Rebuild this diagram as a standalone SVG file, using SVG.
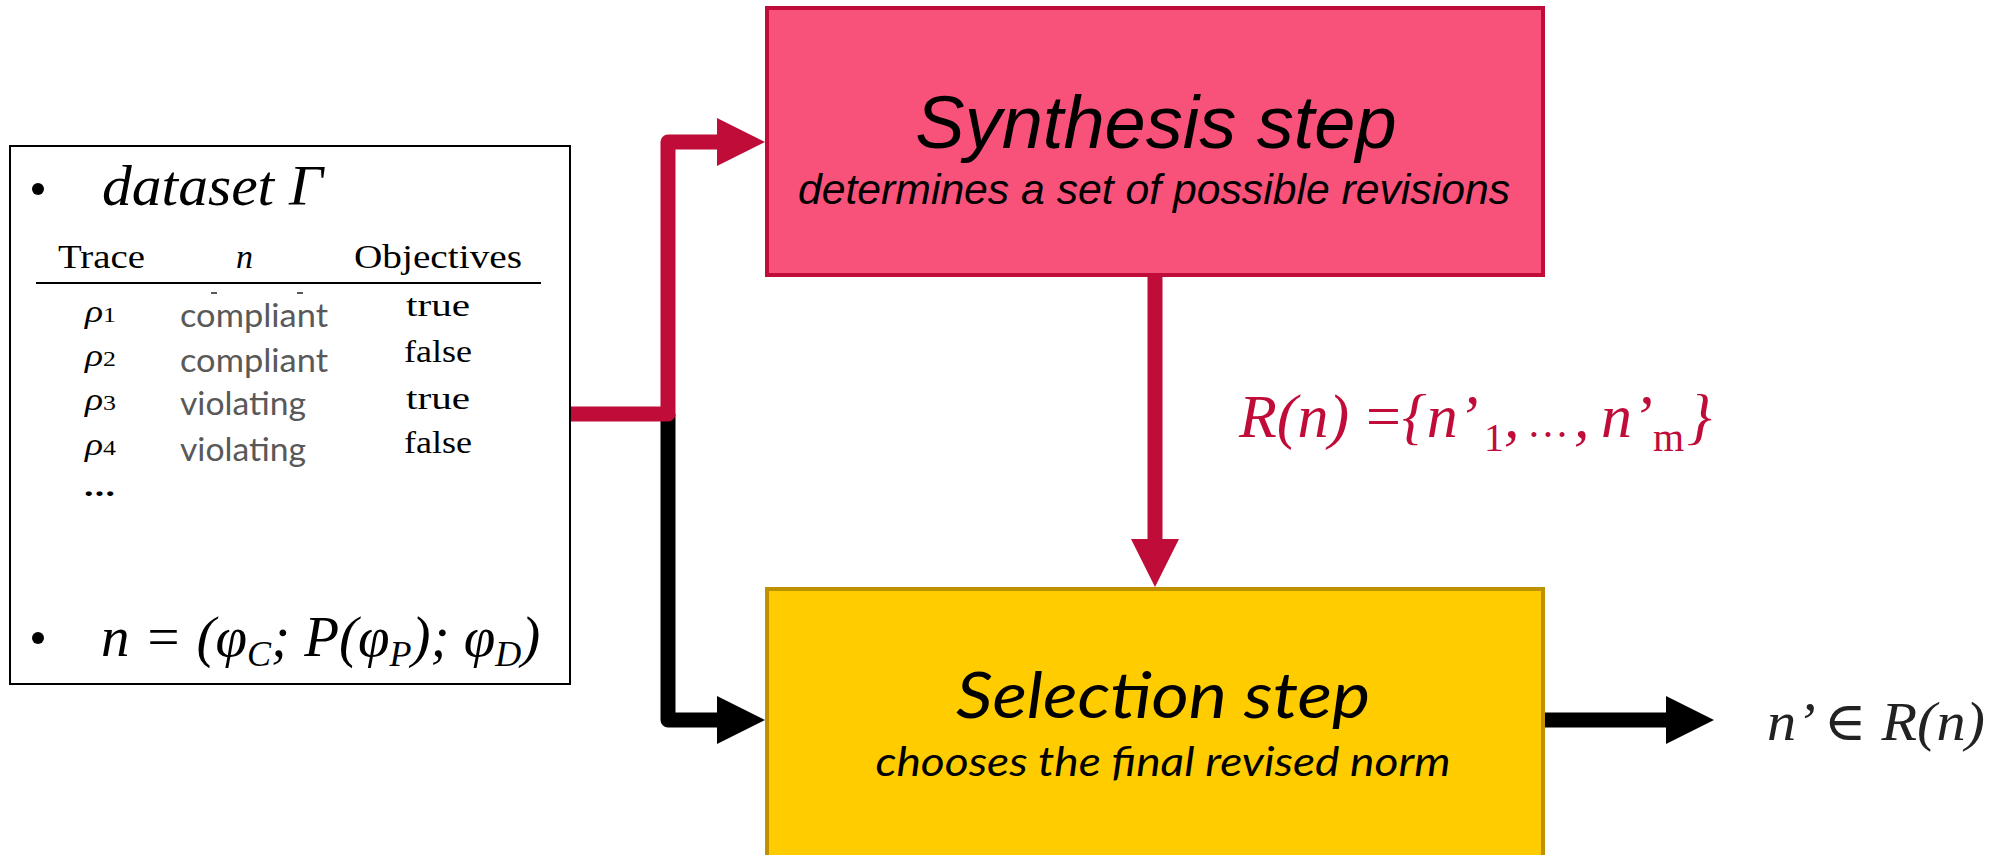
<svg xmlns="http://www.w3.org/2000/svg" width="1996" height="855" viewBox="0 0 1996 855">
<defs>
<style>
.math{font-family:"Liberation Serif","DejaVu Serif",serif;font-style:italic}
.cm{font-family:"Liberation Serif","DejaVu Serif",serif}
.up{font-family:"Liberation Serif","DejaVu Serif",serif;font-style:normal}
.cal{font-family:Lato,"Open Sans",sans-serif}
.ar{font-family:"Liberation Sans",Arial,sans-serif;font-style:italic}
.red{fill:#C00C38}
.gray{fill:#595959}
</style>
<marker id="ahRed" markerUnits="userSpaceOnUse" markerWidth="48" markerHeight="48" refX="0" refY="24" orient="auto" viewBox="0 0 48 48"><path d="M0,0 L48,24 L0,48 Z" fill="#C00C38"/></marker>
<marker id="ahBlack" markerUnits="userSpaceOnUse" markerWidth="48" markerHeight="48" refX="0" refY="24" orient="auto" viewBox="0 0 48 48"><path d="M0,0 L48,24 L0,48 Z" fill="#000"/></marker>
</defs>
<rect width="1996" height="855" fill="#fff"/>

<g id="connectors" fill="none" stroke-width="15" stroke-linejoin="round">
<path d="M668,414 V720 H717" stroke="#000" marker-end="url(#ahBlack)"/>
<path d="M570,414 H668 V142 H717" stroke="#C00C38" marker-end="url(#ahRed)"/>
<path d="M1155,277 V539" stroke="#C00C38" marker-end="url(#ahRed)"/>
<path d="M1545,720 H1666" stroke="#000" marker-end="url(#ahBlack)"/>
</g>

<g id="input">
<rect x="10" y="146" width="560" height="538" fill="#fff" stroke="#000" stroke-width="2"/>
<circle cx="38" cy="189" r="6" fill="#000"/>
<text class="math" x="102" y="205" font-size="58" textLength="221" lengthAdjust="spacingAndGlyphs">dataset Γ</text>
<text class="cm" x="58" y="268" font-size="33" textLength="87" lengthAdjust="spacingAndGlyphs">Trace</text>
<text class="math" x="236" y="268" font-size="34">n</text>
<text class="cm" x="354" y="268" font-size="33" textLength="168" lengthAdjust="spacingAndGlyphs">Objectives</text>
<line x1="36" y1="283" x2="541" y2="283" stroke="#000" stroke-width="2"/>
<rect x="211" y="292" width="6" height="2" fill="#595959"/>
<rect x="297" y="292" width="6" height="2" fill="#595959"/>
<g font-size="32">
<text class="math" x="85" y="322" textLength="31" lengthAdjust="spacingAndGlyphs">ρ<tspan class="up" font-size="22">1</tspan></text>
<text class="math" x="85" y="366" textLength="31" lengthAdjust="spacingAndGlyphs">ρ<tspan class="up" font-size="22">2</tspan></text>
<text class="math" x="85" y="410" textLength="31" lengthAdjust="spacingAndGlyphs">ρ<tspan class="up" font-size="22">3</tspan></text>
<text class="math" x="85" y="455" textLength="31" lengthAdjust="spacingAndGlyphs">ρ<tspan class="up" font-size="22">4</tspan></text>
</g>
<g class="cal gray" font-size="32">
<text x="180" y="327" textLength="148" lengthAdjust="spacingAndGlyphs">compliant</text>
<text x="180" y="372" textLength="148" lengthAdjust="spacingAndGlyphs">compliant</text>
<text x="180" y="415" textLength="126" lengthAdjust="spacingAndGlyphs">violating</text>
<text x="180" y="461" textLength="126" lengthAdjust="spacingAndGlyphs">violating</text>
</g>
<g class="cm" font-size="32">
<text x="406" y="316" textLength="64" lengthAdjust="spacingAndGlyphs">true</text>
<text x="404" y="362" textLength="68" lengthAdjust="spacingAndGlyphs">false</text>
<text x="406" y="409" textLength="64" lengthAdjust="spacingAndGlyphs">true</text>
<text x="404" y="453" textLength="68" lengthAdjust="spacingAndGlyphs">false</text>
</g>
<text class="cal" x="84" y="496" font-size="30" font-weight="bold" textLength="31" lengthAdjust="spacingAndGlyphs">…</text>
<circle cx="38" cy="638" r="6" fill="#000"/>
<text class="math" x="101" y="656" font-size="57">n = (φ<tspan font-size="36" dy="10">C</tspan><tspan dy="-10">; P(φ</tspan><tspan font-size="36" dy="10">P</tspan><tspan dy="-10">); φ</tspan><tspan font-size="36" dy="10">D</tspan><tspan dy="-10">)</tspan></text>
</g>

<g id="synthesis">
<rect x="767" y="8" width="776" height="267" fill="#F8527A" stroke="#C00C38" stroke-width="4"/>
<text class="ar" x="1156" y="148" font-size="74" text-anchor="middle">Synthesis step</text>
<text class="ar" x="1154" y="204" font-size="43" text-anchor="middle" textLength="712" lengthAdjust="spacingAndGlyphs">determines a set of possible revisions</text>
</g>

<g id="revisions-label" class="red">
<text class="math" x="1239" y="437" font-size="62">R(n)</text>
<text class="math" x="1362" y="437" font-size="62">=</text>
<text class="math" x="1402" y="437" font-size="62">{n’</text>
<text class="up" x="1484" y="451" font-size="40">1</text>
<text class="math" x="1504" y="437" font-size="62">,</text>
<text class="math" x="1530" y="437" font-size="42">…</text>
<text class="math" x="1574" y="437" font-size="62">,</text>
<text class="math" x="1601" y="437" font-size="62">n’</text>
<text class="up" x="1653" y="451" font-size="40">m</text>
<text class="math" x="1687" y="437" font-size="62">}</text>
</g>

<g id="selection">
<rect x="767" y="589" width="776" height="270" fill="#FFCC00" stroke="#BF9000" stroke-width="4"/>
<text class="cal" x="1163" y="718" font-size="64" font-style="italic" text-anchor="middle" textLength="414" lengthAdjust="spacingAndGlyphs">Selection step</text>
<text class="cal" x="1163" y="776" font-size="40" font-style="italic" text-anchor="middle" textLength="575" lengthAdjust="spacingAndGlyphs">chooses the final revised norm</text>
</g>

<g id="output">
<text class="math" x="1767" y="740" font-size="54" fill="#222" textLength="218" lengthAdjust="spacingAndGlyphs">n’ <tspan font-style="normal">∈</tspan> R(n)</text>
</g>
</svg>
